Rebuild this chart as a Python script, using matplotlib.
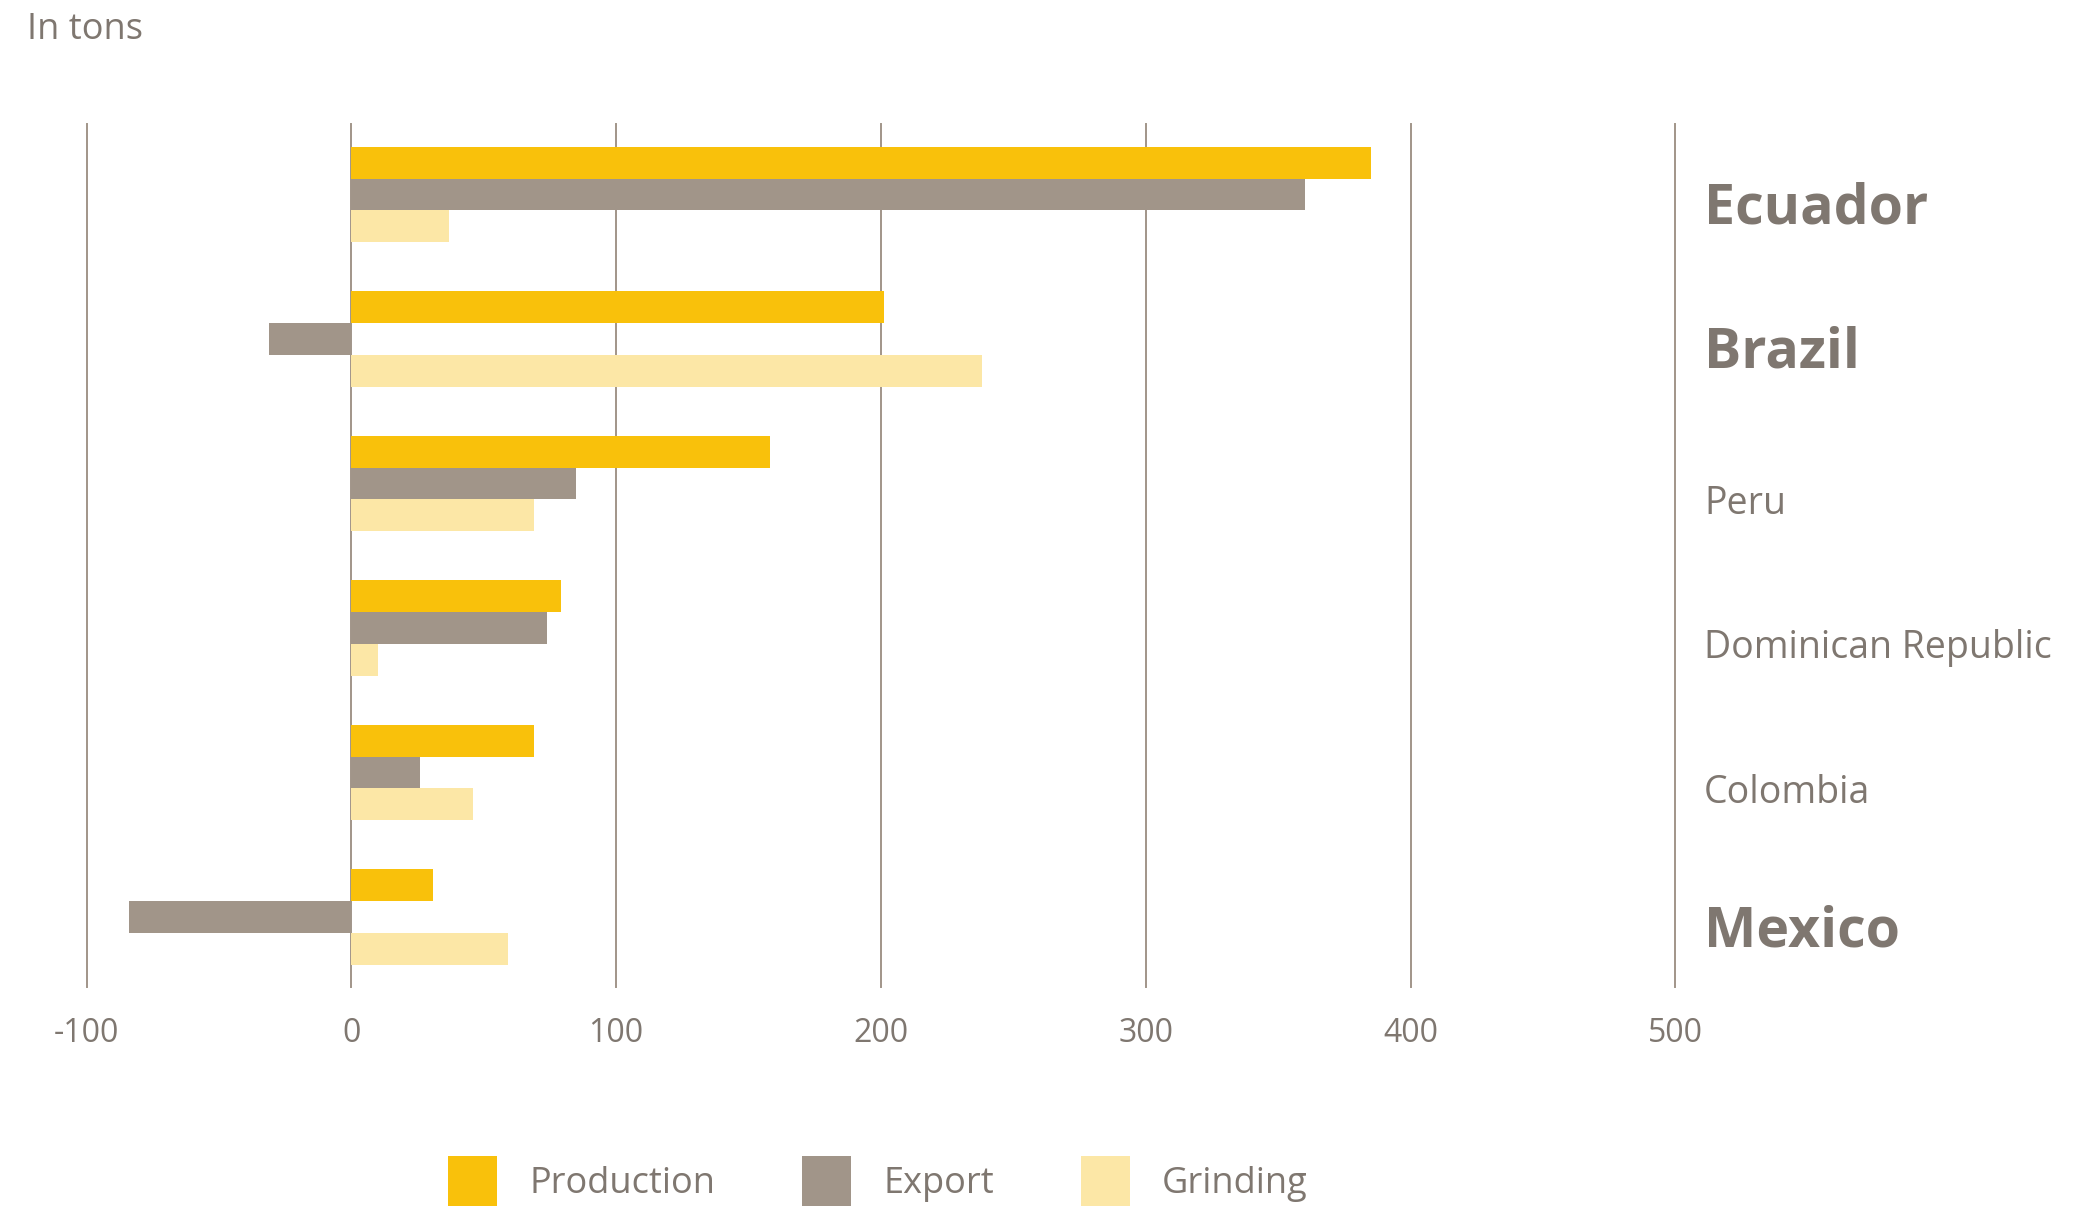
import matplotlib.pyplot as plt
import numpy as np

plt.rcParams['font.family'] = ['Open Sans', 'DejaVu Sans']

countries = ["Ecuador", "Brazil", "Peru", "Dominican Republic", "Colombia", "Mexico"]
highlight = [True, True, False, False, False, True]
production = [385, 201, 158, 79, 69, 31]
export = [360, -31, 85, 74, 26, -84]
grinding = [37, 238, 69, 10, 46, 59]
ticks = [-100, 0, 100, 200, 300, 400, 500]

c_prod = "#F9C10B"
c_exp = "#A19589"
c_grind = "#FCE7A6"
c_text = "#7F7770"

fig = plt.figure(figsize=(20.85, 12.06), dpi=100)
ax = fig.add_axes([0.0415, 0.182, 0.762, 0.7155])

y = np.arange(len(countries))
h = 0.22
ax.barh(y - h, production, height=h, color=c_prod, zorder=3, label="Production")
ax.barh(y, export, height=h, color=c_exp, zorder=3, label="Export")
ax.barh(y + h, grinding, height=h, color=c_grind, zorder=3, label="Grinding")

ax.set_xlim(-100, 500)
ax.set_ylim(len(countries) - 0.52, -0.49)
ax.set_xticks(ticks)
ax.set_xticklabels([str(t) for t in ticks])
ax.set_yticks([])
for t in ticks:
    ax.axvline(t, color=c_exp, linewidth=1.4, zorder=1, clip_on=False)
for s in ax.spines.values():
    s.set_visible(False)
ax.tick_params(axis='x', length=0, pad=22, labelsize=23, labelcolor=c_text)

for i, (name, big) in enumerate(zip(countries, highlight)):
    if big:
        ax.text(1.018, i + 0.1, name, transform=ax.get_yaxis_transform(),
                fontsize=40, fontweight='bold', color=c_text, va='center', ha='left')
    else:
        ax.text(1.018, i + 0.14, name, transform=ax.get_yaxis_transform(),
                fontsize=27, color=c_text, va='center', ha='left')

fig.text(0.0128, 0.975, "In tons", fontsize=26, color=c_text, va='center', ha='left')

leg = fig.legend(loc='lower left', bbox_to_anchor=(0.215, 0.0), ncol=3, frameon=False,
                 fontsize=26, handlelength=1.35, handleheight=1.75, handletextpad=0.9,
                 columnspacing=2.4, borderpad=0, borderaxespad=0)
for txt in leg.get_texts():
    txt.set_color(c_text)

fig.savefig("out.png", dpi=100)
